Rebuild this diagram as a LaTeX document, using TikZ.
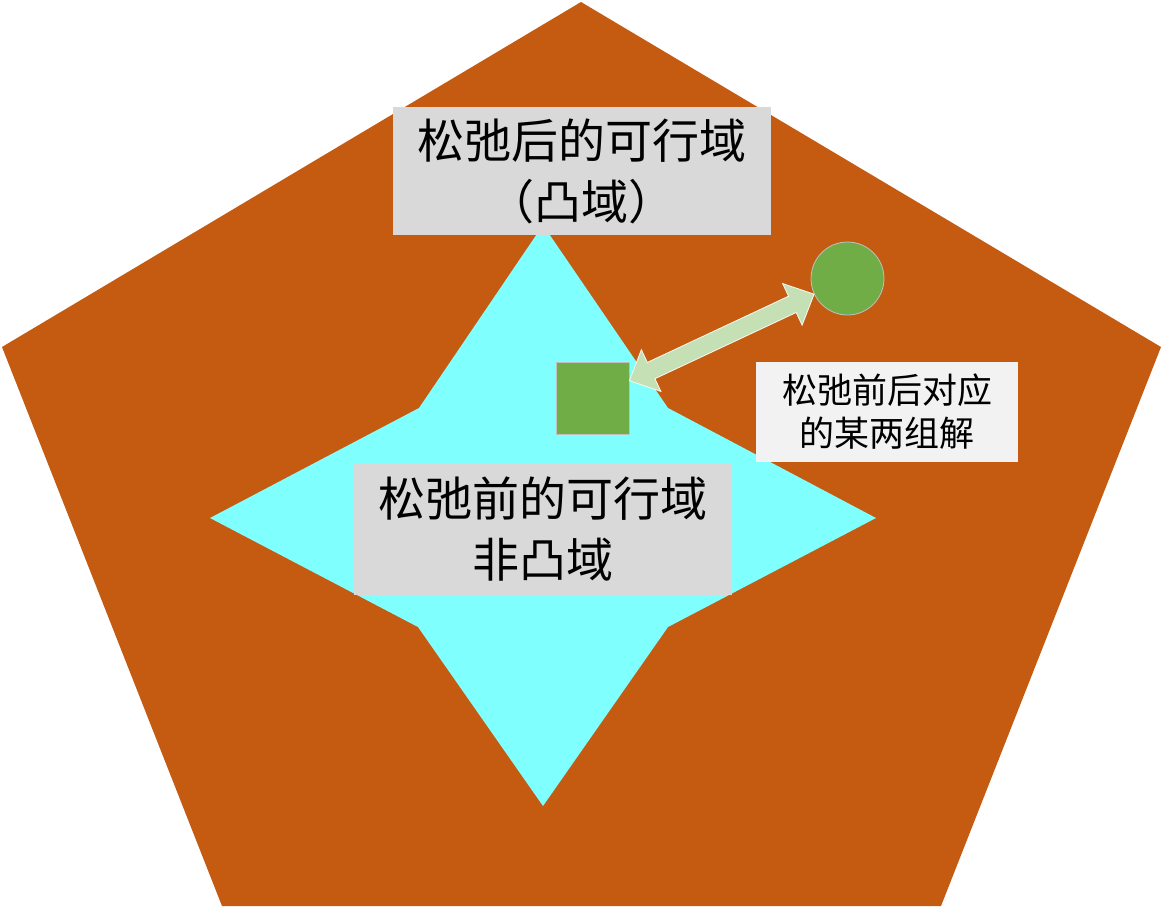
\documentclass[tikz,border=0pt]{standalone}
\usepackage{fontspec}
\newfontfamily\cjk{Noto Sans CJK SC}
\usetikzlibrary{calc}
\definecolor{rust}{HTML}{C55A11}
\definecolor{aqua}{HTML}{80FFFF}
\definecolor{boxgray}{HTML}{D9D9D9}
\definecolor{boxlight}{HTML}{F2F2F2}
\definecolor{leaf}{HTML}{70AD47}
\definecolor{paleleaf}{HTML}{C5E0B4}
\definecolor{edgegray}{HTML}{BFBFBF}
\tikzset{
  bigbox/.style={fill=boxgray, inner sep=0pt, align=center, text=black,
    minimum width=378pt, font=\cjk\fontsize{47}{61}\selectfont},
  notebox/.style={fill=boxlight, inner sep=0pt, align=center, text=black,
    minimum width=262pt, minimum height=100pt, font=\cjk\fontsize{35}{43}\selectfont},
  solbox/.style={fill=leaf, draw=edgegray, line width=0.8pt, minimum width=73pt,
    minimum height=72pt, inner sep=0pt},
  soldot/.style={circle, fill=leaf, draw=edgegray, line width=0.8pt,
    minimum size=73pt, inner sep=0pt},
  blockarrow/.style={fill=paleleaf, draw=white!85!paleleaf, line width=0.8pt, line join=miter}
}
\begin{document}
\begin{tikzpicture}[x=1pt,y=-1pt]
\useasboundingbox[fill=white] (0,0) rectangle (1163,908);
% relaxed feasible region (pentagon)
\fill[rust] (581,2) -- (1161,347) -- (941,906) -- (222,906) -- (2,347) -- cycle;
% original feasible region (star)
\fill[aqua] (543,225) -- (668,408) -- (876,518) -- (668,627) -- (543,806)
  -- (418,627) -- (210,518) -- (419,408) -- cycle;
% labels
\node[bigbox, minimum height=128pt] (top) at (581.5,171) {松弛后的可行域\\（凸域）};
\node[bigbox, minimum height=132pt] (mid) at (543,529) {松弛前的可行域\\非凸域};
\node[notebox] (note) at (887,412) {松弛前后对应\\的某两组解};
% two solutions
\node[solbox] (sq) at (592.5,398) {};
\node[soldot] (ci) at (847.5,278.5) {};
% double block arrow between them
\path (sq) -- (ci) coordinate[pos=0] (A) coordinate[pos=1] (B);
\coordinate (H1) at ($(A)!24pt!(B)$);
\coordinate (H2) at ($(B)!24pt!(A)$);
\filldraw[blockarrow] (A) -- ($(H1)!23pt!90:(B)$) -- ($(H1)!9pt!90:(B)$)
  -- ($(H2)!9pt!-90:(A)$) -- ($(H2)!23pt!-90:(A)$) -- (B)
  -- ($(H2)!23pt!90:(A)$) -- ($(H2)!9pt!90:(A)$)
  -- ($(H1)!9pt!-90:(B)$) -- ($(H1)!23pt!-90:(B)$) -- cycle;
\end{tikzpicture}
\end{document}
